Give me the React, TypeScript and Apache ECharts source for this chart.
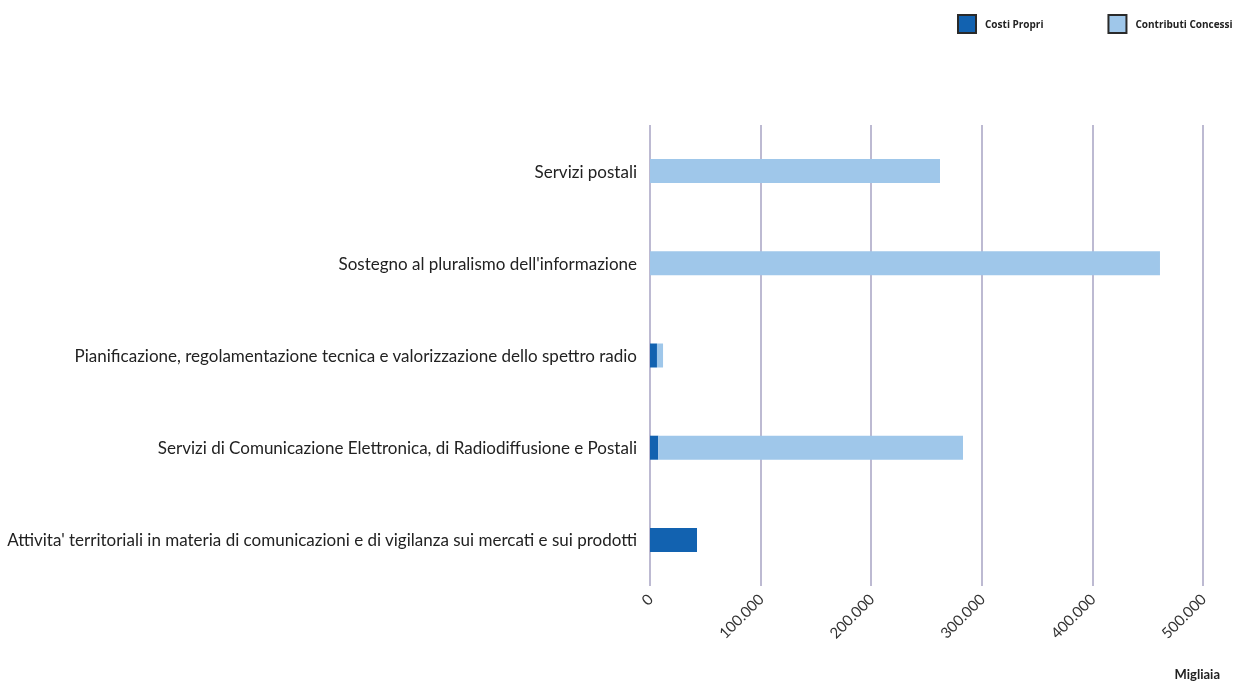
import React, { useEffect, useRef } from "react";
import * as echarts from "echarts";

const categories = [
  "Servizi postali",
  "Sostegno al pluralismo dell'informazione",
  "Pianificazione, regolamentazione tecnica e valorizzazione dello spettro radio",
  "Servizi di Comunicazione Elettronica, di Radiodiffusione e Postali",
  "Attivita' territoriali in materia di comunicazioni e di vigilanza sui mercati e sui prodotti",
];
const costiPropri = [0, 0, 6300, 7500, 42500];
const contributiConcessi = [262200, 461100, 5500, 275500, 0];
const xTicks = [0, 100000, 200000, 300000, 400000, 500000];

const fmt = (v: number) => v.toLocaleString("de-DE");

export default function App() {
  const ref = useRef<HTMLDivElement>(null);
  useEffect(() => {
    if (!ref.current) return;
    const chart = echarts.init(ref.current, undefined, { renderer: "svg" });
    const font = "Lato, 'Open Sans', sans-serif";
    const legendFont = "'Open Sans', Lato, sans-serif";
    chart.setOption({
      animation: false,
      textStyle: { fontFamily: font },
      legend: {
        left: 952,
        top: 9,
        width: 300,
        orient: "horizontal",
        itemWidth: 18,
        itemHeight: 18,
        itemGap: 64,
        icon: "rect",
        textStyle: { fontSize: 10, fontWeight: "bold", color: "#222", fontFamily: legendFont, padding: [0, 0, 0, 4] },
        data: [
          { name: "Costi Propri", itemStyle: { borderColor: "#2a2a2a", borderWidth: 2 } },
          { name: "Contributi Concessi", itemStyle: { borderColor: "#2a2a2a", borderWidth: 2 } },
        ],
      },
      grid: { left: 650, right: 33, top: 125, bottom: 98, containLabel: false },
      xAxis: {
        type: "value",
        min: 0,
        max: 500000,
        interval: 100000,
        axisLine: { show: false },
        axisTick: { show: false },
        splitLine: { show: true, lineStyle: { color: "#bdbad2", width: 2 } },
        axisLabel: {
          rotate: 45,
          fontSize: 15,
          color: "#333",
          margin: 10,
          formatter: (v: number) => (xTicks.includes(v) ? fmt(v) : ""),
        },
      },
      yAxis: {
        type: "category",
        inverse: true,
        data: categories,
        axisLine: { show: false },
        axisTick: { show: false },
        axisLabel: { fontSize: 17, color: "#222", margin: 13 },
      },
      graphic: [
        {
          type: "text",
          right: 16,
          top: 667,
          style: { text: "Migliaia", fontSize: 13, fontWeight: "bold", fill: "#222", fontFamily: font },
        },
      ],
      series: [
        {
          name: "Costi Propri",
          type: "bar",
          stack: "tot",
          data: costiPropri,
          barWidth: 24,
          itemStyle: { color: "#1262b0" },
        },
        {
          name: "Contributi Concessi",
          type: "bar",
          stack: "tot",
          data: contributiConcessi,
          barWidth: 24,
          itemStyle: { color: "#9fc7ea" },
        },
      ],
    });
    return () => chart.dispose();
  }, []);
  return (
    <div
      ref={ref}
      style={{ position: "fixed", left: 0, top: 0, width: 1236, height: 684 }}
    />
  );
}
